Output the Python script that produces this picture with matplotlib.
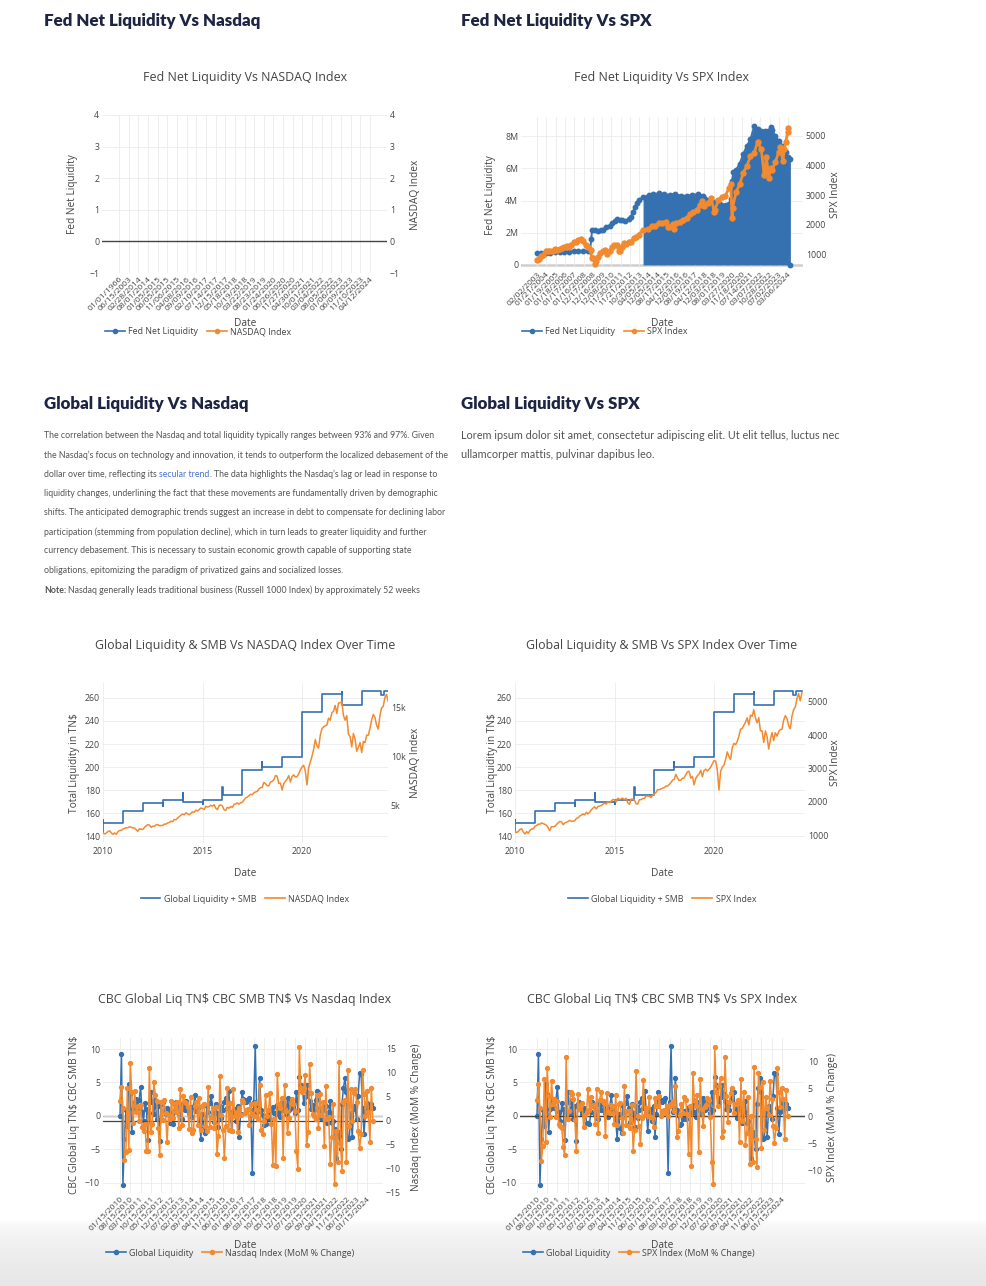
import numpy as np
import pandas as pd
import matplotlib
matplotlib.use('Agg')
import matplotlib.pyplot as plt
from matplotlib.lines import Line2D
from matplotlib.ticker import FuncFormatter
from matplotlib.colors import LinearSegmentedColormap

# ── data ─────────────────────────────────────────────────────────────────────
# top left: Fed net liquidity vs NASDAQ (no data came through)
fnl_nasdaq_ticks = ['01/01/1966', '06/15/2003', '02/28/2014', '08/01/2014', '01/05/2015',
                    '06/05/2015', '11/06/2015', '04/08/2016', '09/09/2016', '02/10/2017',
                    '07/14/2017', '12/15/2017', '05/18/2018', '10/19/2018', '03/22/2019',
                    '08/23/2019', '01/24/2020', '06/26/2020', '11/27/2020', '04/30/2021',
                    '10/01/2021', '03/04/2022', '08/05/2022', '01/06/2023', '06/09/2023',
                    '11/10/2023', '04/12/2024']
fnl_nasdaq_liq = []
fnl_nasdaq_idx = []

# top right: Fed net liquidity vs SPX
fnl_spx_ticks = ['02/02/2003', '01/21/2004', '01/19/2005', '01/18/2006', '01/17/2007',
                 '01/16/2008', '12/17/2008', '12/16/2009', '12/08/2010', '11/30/2011',
                 '11/21/2012', '10/30/2013', '04/05/2014', '12/05/2014', '08/17/2015',
                 '04/12/2016', '12/03/2016', '08/19/2017', '04/12/2018', '12/03/2018',
                 '08/01/2019', '03/27/2020', '11/18/2020', '07/14/2021', '03/07/2022',
                 '10/28/2022', '07/02/2023', '03/06/2024']

fed_years = [2003.09, 2003.5, 2004.0, 2004.5, 2005.0, 2005.5, 2006.0, 2006.5, 2007.0, 2007.5,
             2008.0, 2008.5, 2008.7, 2008.8, 2008.9, 2009.2, 2009.5, 2009.8,
             2010.0, 2010.4, 2010.8, 2011.0, 2011.3, 2011.5, 2011.8, 2012.0, 2012.4, 2012.8,
             2013.0, 2013.2, 2013.4, 2013.6, 2013.8, 2014.0, 2014.3, 2014.6,
             2015.0, 2015.4, 2015.8, 2016.2, 2016.6, 2017.0, 2017.4, 2017.8, 2018.2, 2018.6,
             2019.0, 2019.4, 2019.8, 2020.0, 2020.15, 2020.22, 2020.3, 2020.5, 2020.75,
             2021.0, 2021.25, 2021.5, 2021.75, 2022.0, 2022.25, 2022.5, 2022.75, 2022.9,
             2023.0, 2023.25, 2023.5, 2023.75, 2024.0, 2024.15, 2024.25, 2024.27]
fed_liq_m = [0.72, 0.74, 0.76, 0.77, 0.79, 0.80, 0.82, 0.83, 0.84, 0.85,
             0.86, 0.87, 0.88, 1.6, 2.2, 2.15, 2.1, 2.15,
             2.2, 2.35, 2.45, 2.6, 2.75, 2.85, 2.8, 2.8, 2.75, 2.85,
             3.0, 3.3, 3.6, 3.85, 4.05, 4.2, 4.35, 4.4,
             4.45, 4.4, 4.35, 4.4, 4.3, 4.3, 4.35, 4.4, 4.3, 4.05,
             3.9, 3.8, 3.75, 3.8, 4.1, 5.2, 5.8, 5.9, 6.3,
             6.9, 7.4, 7.8, 8.6, 8.45, 8.35, 8.3, 8.35, 8.55,
             8.4, 8.0, 7.7, 7.4, 7.0, 6.7, 6.6, 0.0]

spx_years = [2003.09, 2003.25, 2003.5, 2003.75,
             2004.0, 2004.25, 2004.5, 2004.75,
             2005.0, 2005.25, 2005.5, 2005.75,
             2006.0, 2006.25, 2006.5, 2006.75,
             2007.0, 2007.25, 2007.5, 2007.75,
             2008.0, 2008.25, 2008.5, 2008.75, 2008.85,
             2009.0, 2009.2, 2009.25, 2009.5, 2009.75,
             2010.0, 2010.25, 2010.5, 2010.75,
             2011.0, 2011.25, 2011.5, 2011.7, 2011.8,
             2012.0, 2012.25, 2012.5, 2012.75,
             2013.0, 2013.25, 2013.5, 2013.75,
             2014.0, 2014.25, 2014.5, 2014.75,
             2015.0, 2015.25, 2015.5, 2015.65, 2015.75,
             2016.0, 2016.1, 2016.25, 2016.5, 2016.75,
             2017.0, 2017.25, 2017.5, 2017.75,
             2018.0, 2018.1, 2018.25, 2018.5, 2018.75, 2018.95,
             2019.0, 2019.25, 2019.5, 2019.75,
             2020.0, 2020.12, 2020.22, 2020.25, 2020.5, 2020.75,
             2021.0, 2021.25, 2021.5, 2021.75,
             2022.0, 2022.25, 2022.45, 2022.5, 2022.6, 2022.78, 2022.9,
             2023.0, 2023.25, 2023.5, 2023.6, 2023.8, 2023.9,
             2024.0, 2024.15, 2024.25]
spx_weekly = [840, 850, 975, 1000,
              1130, 1120, 1140, 1115,
              1210, 1180, 1190, 1230,
              1270, 1300, 1270, 1335,
              1420, 1420, 1500, 1530,
              1470, 1320, 1280, 1160, 900,
              900, 680, 800, 920, 1050,
              1115, 1170, 1030, 1140,
              1260, 1325, 1320, 1130, 1130,
              1260, 1400, 1360, 1440,
              1430, 1570, 1610, 1680,
              1840, 1870, 1960, 1970,
              2060, 2070, 2090, 1920, 1920,
              2040, 1860, 2060, 2100, 2170,
              2240, 2360, 2420, 2510,
              2670, 2800, 2640, 2720, 2910, 2420,
              2500, 2830, 2940, 2980,
              3230, 3380, 2240, 2580, 3100, 3360,
              3750, 3970, 4300, 4400,
              4770, 4530, 3670, 3780, 4280, 3580, 3900,
              3840, 4100, 4450, 4590, 4120, 4550,
              4770, 5100, 5250]

# middle: Global liquidity + SMB (TN$), step series
gl_dates = ['2010-01-01', '2010-01-03', '2010-01-08', '2011-01-03', '2012-01-02', '2012-12-31',
            '2013-01-04', '2014-01-01', '2014-01-06', '2015-01-01', '2015-01-05', '2016-01-01',
            '2016-01-06', '2017-01-02', '2018-01-01', '2018-01-05', '2019-01-01', '2020-01-01',
            '2021-01-01', '2022-01-03', '2022-01-07', '2023-01-02', '2023-12-28', '2024-02-12',
            '2024-05-25']
gl_smb = [143.5, 154.0, 151.0, 161.5, 168.5, 166.5,
          171.5, 177.5, 170.0, 168.0, 171.0, 182.5,
          176.0, 197.0, 204.0, 200.0, 209.0, 248.0,
          263.5, 265.5, 254.0, 265.8, 262.3, 265.8,
          265.8]

# month-start levels (previous month close), Dec 2009 .. May 2024
nasdaq_monthly = [2269,
    2147, 2238, 2398, 2461, 2257, 2109, 2255, 2114, 2369, 2507, 2498, 2653,
    2700, 2782, 2781, 2874, 2835, 2774, 2756, 2579, 2415, 2684, 2620, 2605,
    2814, 2967, 3092, 3046, 2827, 2935, 2940, 3067, 3116, 2977, 3010, 3020,
    3142, 3160, 3268, 3329, 3456, 3403, 3626, 3590, 3771, 3920, 4060, 4177,
    4104, 4308, 4199, 4115, 4243, 4408, 4370, 4580, 4493, 4631, 4792, 4736,
    4635, 4964, 4901, 4941, 5070, 4987, 5128, 4777, 4620, 5054, 5109, 5007,
    4614, 4558, 4870, 4775, 4948, 4843, 5162, 5213, 5312, 5189, 5324, 5383,
    5615, 5825, 5912, 6048, 6199, 6140, 6348, 6429, 6496, 6728, 6874, 6903,
    7411, 7273, 7063, 7066, 7442, 7510, 7672, 8110, 8046, 7306, 7331, 6635,
    7282, 7533, 7729, 8095, 7453, 8006, 8175, 7963, 7999, 8292, 8665, 8973,
    9151, 8567, 7150, 8890, 9490, 10059, 10745, 11775, 11168, 10912, 12199, 12888,
    13071, 13192, 13247, 13962, 13749, 14504, 14673, 15259, 14448, 15498, 15538, 15645,
    14240, 13751, 14221, 12335, 12081, 11029, 12391, 11816, 10576, 10988, 11468, 10466,
    11585, 11456, 12222, 12227, 12935, 13788, 14346, 14035, 13219, 12851, 14226, 15011,
    15164, 16092, 16379, 15658, 16735]
spx_monthly = [1115,
    1074, 1104, 1169, 1187, 1089, 1031, 1102, 1049, 1141, 1183, 1181, 1258,
    1286, 1327, 1326, 1364, 1345, 1321, 1292, 1219, 1131, 1253, 1247, 1258,
    1312, 1366, 1408, 1398, 1310, 1362, 1379, 1407, 1441, 1412, 1416, 1426,
    1498, 1515, 1569, 1598, 1631, 1606, 1686, 1633, 1682, 1757, 1806, 1848,
    1783, 1859, 1872, 1884, 1924, 1960, 1931, 2003, 1972, 2018, 2068, 2059,
    1995, 2105, 2068, 2086, 2107, 2063, 2104, 1972, 1920, 2079, 2080, 2044,
    1940, 1932, 2060, 2065, 2097, 2099, 2174, 2171, 2168, 2126, 2199, 2239,
    2279, 2364, 2363, 2384, 2412, 2423, 2470, 2472, 2519, 2575, 2648, 2674,
    2824, 2714, 2641, 2648, 2705, 2718, 2816, 2902, 2914, 2712, 2760, 2507,
    2704, 2784, 2834, 2946, 2752, 2942, 2980, 2926, 2977, 3038, 3141, 3231,
    3226, 2954, 2350, 2912, 3044, 3100, 3271, 3500, 3363, 3270, 3622, 3756,
    3714, 3811, 3973, 4181, 4204, 4298, 4395, 4523, 4308, 4605, 4567, 4766,
    4516, 4374, 4530, 4132, 4132, 3785, 4130, 3955, 3586, 3872, 4080, 3840,
    4077, 3970, 4109, 4169, 4180, 4450, 4589, 4508, 4288, 4194, 4568, 4770,
    4846, 5096, 5254, 5036, 5278]

# bottom: monthly change, global liquidity (TN$) and index MoM %
mom_ticks = ['01/15/2010', '08/15/2010', '03/15/2011', '10/15/2011', '05/15/2012', '12/15/2012',
             '07/15/2013', '02/15/2014', '09/15/2014', '04/15/2015', '11/15/2015', '06/15/2016',
             '01/15/2017', '08/15/2017', '03/15/2018', '10/15/2018', '05/15/2019', '12/15/2019',
             '07/15/2020', '02/15/2021', '09/15/2021', '04/15/2022', '11/15/2022', '06/15/2023',
             '01/15/2024']
gl_change = [
    0.0, 9.2, -10.3, -3.5, 0.8, -1.5, 4.8, 3.2, -2.4, 1.0, 2.1, 2.5,
    1.2, 2.4, 4.3, 0.5, -0.8, 1.9, 1.0, -3.6, 0.4, 3.5, 2.0, 0.3,
    2.4, -0.5, 1.5, -3.8, 1.8, 2.1, 0.8, 0.2, 1.2, 0.6, -1.0, -1.1,
    -1.2, 0.5, 2.0, 1.4, 0.3, 1.8, -0.4, 1.6, 0.9, 2.2, 1.0, 0.4,
    1.3, -0.2, 1.5, 3.1, 0.7, 1.1, -0.6, -3.4, 0.2, -1.8, -2.5, 1.4,
    0.6, 1.9, 2.9, 1.2, -0.9, 1.8, 0.4, -1.6, 1.5, -0.3, 0.9, 2.1,
    2.7, 1.1, 3.7, 0.6, -2.3, 0.5, 1.0, -0.8, 1.4, -3.1, 0.2, 3.5,
    2.5, 2.3, 2.0, 2.4, 2.6, 0.9, -8.6, 2.1, 10.4, 0.5, 1.2, 5.7,
    0.8, 0.1, -1.3, -1.2, -0.5, 0.7, -0.4, 0.9, 1.3, 0.4, 0.3, 1.6,
    0.6, -0.2, 2.0, 0.8, 1.5, 0.2, 2.7, 0.9, 2.1, 1.7, 1.2, 0.4,
    3.6, 0.8, 5.8, 4.6, 4.4, 1.9, 2.8, 4.6, 3.4, 2.2, 1.0, 1.6,
    0.9, 2.3, 3.7, 3.5, 1.1, -0.3, 0.8, 1.9, 1.4, -1.1, 0.5, 2.2,
    -1.1, -0.8, -2.0, -6.3, -2.4, -3.0, -4.9, 1.8, 4.2, 5.6, 3.6, -3.5,
    -3.3, 0.4, -3.2, 1.5, 1.0, -0.5, 3.0, 6.4, 6.3, 1.2, -2.7, 0.6,
    1.9, 0.8, 1.2, 1.7, 1.2]
nasdaq_mom = [
    4.2, 7.1, 2.6, -8.3, -6.6, 6.9, -6.2, 12.0, 5.9, -0.4, 6.2,
    1.8, 3.0, 0.0, 3.3, -1.3, -2.2, -0.6, -6.4, -6.4, 11.1, -2.4, -0.6,
    8.0, 5.4, 4.2, -1.5, -7.2, 3.8, 0.2, 4.3, 1.6, -4.5, 1.1, 0.3,
    4.1, 0.6, 3.4, 1.9, 3.8, -1.5, 6.6, -1.0, 5.1, 3.9, 3.6, 2.9,
    -1.7, 5.0, -2.5, -2.0, 3.1, 3.9, -0.9, 4.8, -1.9, 3.1, 3.5, -1.2,
    -2.1, 7.1, -1.3, 0.8, 2.6, -1.6, 2.8, -6.9, -3.3, 9.4, 1.1, -2.0,
    -7.9, -1.2, 6.8, -1.9, 3.6, -2.1, 6.6, 1.0, 1.9, -2.3, 2.6, 1.1,
    4.3, 3.8, 1.5, 2.3, 2.5, -0.9, 3.4, 1.3, 1.0, 3.6, 2.2, 0.4,
    7.4, -1.9, -2.9, 0.0, 5.3, 0.9, 2.2, 5.7, -0.8, -9.2, 0.3, -9.5,
    9.7, 3.4, 2.6, 4.7, -7.9, 7.4, 2.1, -2.6, 0.5, 3.7, 4.5, 3.5,
    2.0, -6.4, -10.1, 15.4, 6.8, 6.0, 6.8, 9.6, -5.2, -2.3, 11.8, 5.7,
    1.4, 0.9, 0.4, 5.4, -1.5, 5.5, 1.2, 4.0, -5.3, 7.3, 0.3, 0.7,
    -9.0, -3.4, 3.4, -13.3, -2.1, -8.7, 12.3, -4.6, -10.5, 3.9, 4.4, -8.7,
    10.7, -1.1, 6.7, 0.0, 5.8, 6.6, 4.0, -2.2, -5.8, -2.8, 10.7, 5.5,
    1.0, 6.1, 1.8, -4.4, 6.9, 0.0]
spx_mom = [
    2.9, 5.9, 1.5, -8.2, -5.4, 6.9, -4.7, 8.8, 3.7, -0.2, 6.5,
    2.3, 3.2, -0.1, 2.8, -1.4, -1.8, -2.1, -5.7, -7.2, 10.8, -0.5, 0.9,
    4.4, 4.1, 3.1, -0.7, -6.3, 4.0, 1.3, 2.0, 2.4, -2.0, 0.3, 0.7,
    5.0, 1.1, 3.6, 1.8, 2.1, -1.5, 4.9, -3.1, 3.0, 4.5, 2.8, 2.4,
    -3.6, 4.3, 0.7, 0.6, 2.1, 1.9, -1.5, 3.8, -1.6, 2.3, 2.5, -0.4,
    -3.1, 5.5, -1.7, 0.9, 1.0, -2.1, 2.0, -6.3, -2.6, 8.3, 0.1, -1.8,
    -5.1, -0.4, 6.6, 0.3, 1.5, 0.1, 3.6, -0.1, -0.1, -1.9, 3.4, 1.8,
    1.8, 3.7, 0.0, 0.9, 1.2, 0.5, 1.9, 0.1, 1.9, 2.2, 2.8, 1.0,
    5.6, -3.9, -2.7, 0.3, 2.2, 0.5, 3.6, 3.0, 0.4, -6.9, 1.8, -9.2,
    7.9, 3.0, 1.8, 3.9, -6.6, 6.9, 1.3, -1.8, 1.7, 2.0, 3.4, 2.9,
    -0.2, -8.4, -12.5, 12.7, 4.5, 1.8, 5.5, 7.0, -3.9, -2.8, 10.8, 3.7,
    -1.1, 2.6, 4.2, 5.2, 0.5, 2.2, 2.3, 2.9, -4.8, 6.9, -0.8, 4.4,
    -5.3, -3.1, 3.6, -8.8, 0.0, -8.4, 9.1, -4.2, -9.3, 8.0, 5.4, -5.9,
    6.2, -2.6, 3.5, 1.5, 0.2, 6.5, 3.1, -1.8, -4.9, -2.2, 8.9, 4.4,
    1.6, 5.2, 3.1, -4.2, 4.8, 0.0]

# ── style ────────────────────────────────────────────────────────────────────
BLUE = '#3571b0'
ORANGE = '#f28a30'
TXT = '#444444'
GRID = '#ebebeb'
NAVY = '#1e2444'
PARA = '#555555'
LINK = '#4a6fd8'

plt.rcParams['font.family'] = ['Open Sans', 'DejaVu Sans']

TITLE_FS = 8.9
AXT_FS = 7.3
TICK_FS = 6.3
DATE_FS = 6.1
LEG_FS = 6.4

W, H = 986, 1286
fig = plt.figure(figsize=(W / 100, H / 100), dpi=100)
fig.patch.set_facecolor('white')


def rect(x0, y0, x1, y1):
    return [x0 / W, 1 - y1 / H, (x1 - x0) / W, (y1 - y0) / H]


def ftxt(x, y, s, **kw):
    kw.setdefault('color', TXT)
    return fig.text(x / W, 1 - y / H, s, parse_math=False, **kw)


def make_axes(box):
    ax = fig.add_axes(rect(*box))
    ax2 = ax.twinx()
    for a in (ax, ax2):
        for sp in a.spines.values():
            sp.set_visible(False)
        a.tick_params(length=0, labelsize=TICK_FS, labelcolor=TXT, pad=2)
    ax.grid(True, color=GRID, lw=0.6)
    ax.set_axisbelow(True)
    return ax, ax2


def legend(x, y, labels, markers, loc='center left'):
    handles = [Line2D([0], [0], color=c, lw=1.2, marker='o' if markers else None, markersize=3)
               for c in (BLUE, ORANGE)]
    fig.legend(handles, labels, loc=loc, bbox_to_anchor=(x / W, 1 - y / H), ncol=2,
               frameon=False, fontsize=LEG_FS, handlelength=2.2, handletextpad=0.4,
               columnspacing=1.0, borderpad=0, borderaxespad=0, labelcolor=TXT)


def cat_ticks(ax, labels):
    ax.set_xticks(range(len(labels)))
    ax.set_xticklabels(labels, rotation=45, ha='right', rotation_mode='anchor', fontsize=DATE_FS)


# bottom page shading
bg = fig.add_axes([0, 0, 1, 66 / H], zorder=-10)
bg.imshow(np.linspace(0, 1, 100)[:, None] ** 0.5, aspect='auto', extent=[0, 1, 0, 1],
          cmap=LinearSegmentedColormap.from_list('shade', ['#ffffff', '#e7e7e7']))
bg.axis('off')

# ── section headings ─────────────────────────────────────────────────────────
for x, y, s in [(44, 21, 'Fed Net Liquidity Vs Nasdaq'), (461, 21, 'Fed Net Liquidity Vs SPX'),
                (44, 404, 'Global Liquidity Vs Nasdaq'), (461, 404, 'Global Liquidity Vs SPX')]:
    ftxt(x, y, s, fontsize=12.2, fontweight='heavy', color=NAVY, family=['Lato', 'DejaVu Sans'],
         va='center', ha='left')

# ── paragraphs ───────────────────────────────────────────────────────────────
renderer = fig.canvas.get_renderer()
PFONT = ['Lato', 'DejaVu Sans']


def text_run(x, y, parts, size):
    sp = ftxt(0, -50, 'x x', fontsize=size, family=PFONT)
    nn = ftxt(0, -50, 'xx', fontsize=size, family=PFONT)
    space = sp.get_window_extent(renderer).width - nn.get_window_extent(renderer).width
    sp.remove()
    nn.remove()
    for s, color, weight, gap in parts:
        if gap:
            x += space
        t = ftxt(x, y, s, fontsize=size, color=color, fontweight=weight, family=PFONT,
                 va='center', ha='left')
        x = t.get_window_extent(renderer).x1


para_lines = [
    [('The correlation between the Nasdaq and total liquidity typically ranges between 93% and 97%. Given', PARA, 'normal', False)],
    [('the Nasdaq\u2019s focus on technology and innovation, it tends to outperform the localized debasement of the', PARA, 'normal', False)],
    [('dollar over time, reflecting its', PARA, 'normal', False), ('secular trend', LINK, 'normal', True),
     ('.', PARA, 'normal', False), ('The data highlights the Nasdaq\u2019s lag or lead in response to', PARA, 'normal', True)],
    [('liquidity changes, underlining the fact that these movements are fundamentally driven by demographic', PARA, 'normal', False)],
    [('shifts. The anticipated demographic trends suggest an increase in debt to compensate for declining labor', PARA, 'normal', False)],
    [('participation (stemming from population decline), which in turn leads to greater liquidity and further', PARA, 'normal', False)],
    [('currency debasement. This is necessary to sustain economic growth capable of supporting state', PARA, 'normal', False)],
    [('obligations, epitomizing the paradigm of privatized gains and socialized losses.', PARA, 'normal', False)],
    [('Note:', PARA, 'bold', False),
     ('Nasdaq generally leads traditional business (Russell 1000 Index) by approximately 52 weeks', PARA, 'normal', True)],
]
para_y = [436, 455, 474.5, 493.5, 513, 532, 551, 570.5, 590.5]
for y, parts in zip(para_y, para_lines):
    text_run(44, y, parts, 6.35)

text_run(461, 435.5, [('Lorem ipsum dolor sit amet, consectetur adipiscing elit. Ut elit tellus, luctus nec', PARA, 'normal', False)], 7.8)
text_run(461, 454.5, [('ullamcorper mattis, pulvinar dapibus leo.', PARA, 'normal', False)], 7.8)

# ── chart 1: Fed Net Liquidity vs NASDAQ ────────────────────────────────────
ax, ax2 = make_axes((102, 115, 387, 273))
ax.plot(range(len(fnl_nasdaq_liq)), fnl_nasdaq_liq, color=BLUE, marker='o')
ax2.plot(range(len(fnl_nasdaq_idx)), fnl_nasdaq_idx, color=ORANGE, marker='o')
cat_ticks(ax, fnl_nasdaq_ticks)
ax.set_xlim(-1.76, len(fnl_nasdaq_ticks) - 1 + 1.76)
for a in (ax, ax2):
    a.set_ylim(-1, 4)
    a.set_yticks(range(-1, 5))
ax.axhline(0, color=TXT, lw=1.0)
ftxt(245, 77, 'Fed Net Liquidity Vs NASDAQ Index', fontsize=TITLE_FS, ha='center', va='center')
ftxt(73, 194, 'Fed Net Liquidity', fontsize=AXT_FS, rotation=90, ha='center', va='center')
ftxt(415, 195, 'NASDAQ Index', fontsize=AXT_FS, rotation=90, ha='center', va='center')
ftxt(245, 324, 'Date', fontsize=AXT_FS, ha='center', va='center')
legend(105, 332, ['Fed Net Liquidity', 'NASDAQ Index'], True)

# ── chart 2: Fed Net Liquidity vs SPX ───────────────────────────────────────
ax, ax2 = make_axes((521, 117, 803, 268))
tick_dt = pd.to_datetime(fnl_spx_ticks, format='%m/%d/%Y')
tick_year = tick_dt.year + (tick_dt.dayofyear - 1) / 365.25
tick_pos = np.arange(len(fnl_spx_ticks))
fy = np.array(fed_years)
fx = np.interp(fy, tick_year, tick_pos, right=tick_pos[-1] + (fy[-1] - tick_year[-1]) * 2)
fv = np.array(fed_liq_m) * 1e6
dense = fy >= 2014.0
ax.fill_between(fx[dense], 0, fv[dense], color=BLUE, lw=0)
ax.plot(fx, fv, color=BLUE, lw=1.4, marker='o', markersize=3.2)
sx = np.interp(spx_years, tick_year, tick_pos)
ax2.plot(sx, spx_weekly, color=ORANGE, lw=2.0, marker='o', markersize=3.6)
cat_ticks(ax, fnl_spx_ticks)
ax.set_xlim(-1.72, len(fnl_spx_ticks) - 1 + 1.6)
ax.set_ylim(-0.19e6, 9.19e6)
ax.set_yticks([0, 2e6, 4e6, 6e6, 8e6])
ax.yaxis.set_major_formatter(FuncFormatter(lambda v, p: '0' if v == 0 else f'{v / 1e6:.0f}M'))
ax2.set_ylim(563, 5605)
ax2.set_yticks([1000, 2000, 3000, 4000, 5000])
ax.axhline(0, color=TXT, lw=1.0, zorder=0.5)
ftxt(662, 77, 'Fed Net Liquidity Vs SPX Index', fontsize=TITLE_FS, ha='center', va='center')
ftxt(491, 195, 'Fed Net Liquidity', fontsize=AXT_FS, rotation=90, ha='center', va='center')
ftxt(835, 195, 'SPX Index', fontsize=AXT_FS, rotation=90, ha='center', va='center')
ftxt(662, 324, 'Date', fontsize=AXT_FS, ha='center', va='center')
legend(522, 332, ['Fed Net Liquidity', 'SPX Index'], True)

# ── charts 3/4: Global liquidity & SMB vs index over time ──────────────────
gl_dt = pd.to_datetime(gl_dates)
gl_x = gl_dt.year + (gl_dt.dayofyear - 1) / 365.25
mdates = pd.date_range('2010-01-01', periods=len(nasdaq_monthly), freq='MS')
mx = mdates.year + (mdates.month - 1) / 12

for (x0, x1, xc, xl, xr), name, series, rlim, rticks, rfmt in [
        ((103, 388, 245, 74, 415), 'NASDAQ', nasdaq_monthly, (1224, 17550), [5000, 10000, 15000],
         lambda v, p: f'{v / 1000:.0f}k'),
        ((515, 805, 662, 492, 836), 'SPX', spx_monthly, (760, 5571), [1000, 2000, 3000, 4000, 5000],
         lambda v, p: f'{v:.0f}')]:
    ax, ax2 = make_axes((x0, 683, x1, 843))
    ax.step(gl_x, gl_smb, where='post', color=BLUE, lw=1.2)
    ax2.plot(mx, series, color=ORANGE, lw=1.1)
    ax.set_xlim(2010.0, 2010.0 + (x1 - x0) / 19.9)
    ax.set_xticks([2010, 2015, 2020])
    ax.tick_params(axis='x', pad=3)
    ax.set_ylim(134, 273)
    ax.set_yticks(range(140, 261, 20))
    ax2.set_ylim(*rlim)
    ax2.set_yticks(rticks)
    ax2.yaxis.set_major_formatter(FuncFormatter(rfmt))
    ftxt(xc, 646, f'Global Liquidity & SMB Vs {name} Index Over Time', fontsize=TITLE_FS,
         ha='center', va='center')
    ftxt(xl, 763, 'Total Liquidity in TN$', fontsize=AXT_FS, rotation=90, ha='center', va='center')
    ftxt(xr, 763, f'{name} Index', fontsize=AXT_FS, rotation=90, ha='center', va='center')
    ftxt(xc, 873, 'Date', fontsize=AXT_FS, ha='center', va='center')
    legend(xc, 899, ['Global Liquidity + SMB', f'{name} Index'], False, loc='center')

# ── charts 5/6: monthly change ──────────────────────────────────────────────
for (x0, x1, xc, xl, xr), title, rlabel, series, rlim in [
        ((103, 383, 245, 74, 416), 'CBC Global Liq TN$ CBC SMB TN$ Vs Nasdaq Index',
         'Nasdaq Index (MoM % Change)', nasdaq_mom, (-15.15, 17.3)),
        ((520, 805, 662, 492, 833), 'CBC Global Liq TN$ CBC SMB TN$ Vs SPX Index',
         'SPX Index (MoM % Change)', spx_mom, (-14.1, 14.35))]:
    ax, ax2 = make_axes((x0, 1038, x1, 1193))
    ax.plot(range(len(gl_change)), gl_change, color=BLUE, lw=1.1, marker='o', markersize=2.8)
    ax2.plot(range(len(series)), series, color=ORANGE, lw=1.1, marker='o', markersize=2.8)
    step = 7
    ax.set_xticks(range(0, step * len(mom_ticks), step))
    ax.set_xticklabels(mom_ticks, rotation=45, ha='right', rotation_mode='anchor', fontsize=DATE_FS)
    idx0 = 120 if x0 < 400 else 537
    pxm = 1.47 if x0 < 400 else 1.457
    ax.set_xlim((x0 - idx0) / pxm, (x1 - idx0) / pxm)
    ax.set_ylim(-11.55, 11.65)
    ax.set_yticks([-10, -5, 0, 5, 10])
    ax2.set_ylim(*rlim)
    ax2.set_yticks(range(-15, 16, 5) if x0 < 400 else range(-10, 11, 5))
    ax.axhline(0, color=TXT, lw=0.9, zorder=0.5)
    ax2.axhline(0, color=TXT, lw=0.9, zorder=0.5)
    ftxt(xc, 999, title, fontsize=TITLE_FS, ha='center', va='center')
    ftxt(xl, 1115, 'CBC Global Liq TN$ CBC SMB TN$', fontsize=AXT_FS, rotation=90,
         ha='center', va='center')
    ftxt(xr, 1117, rlabel, fontsize=AXT_FS, rotation=90, ha='center', va='center')
    ftxt(xc, 1245, 'Date', fontsize=AXT_FS, ha='center', va='center')
    legend(x0 + 3, 1253, ['Global Liquidity', rlabel], True)

fig.savefig('out.png', dpi=100)
